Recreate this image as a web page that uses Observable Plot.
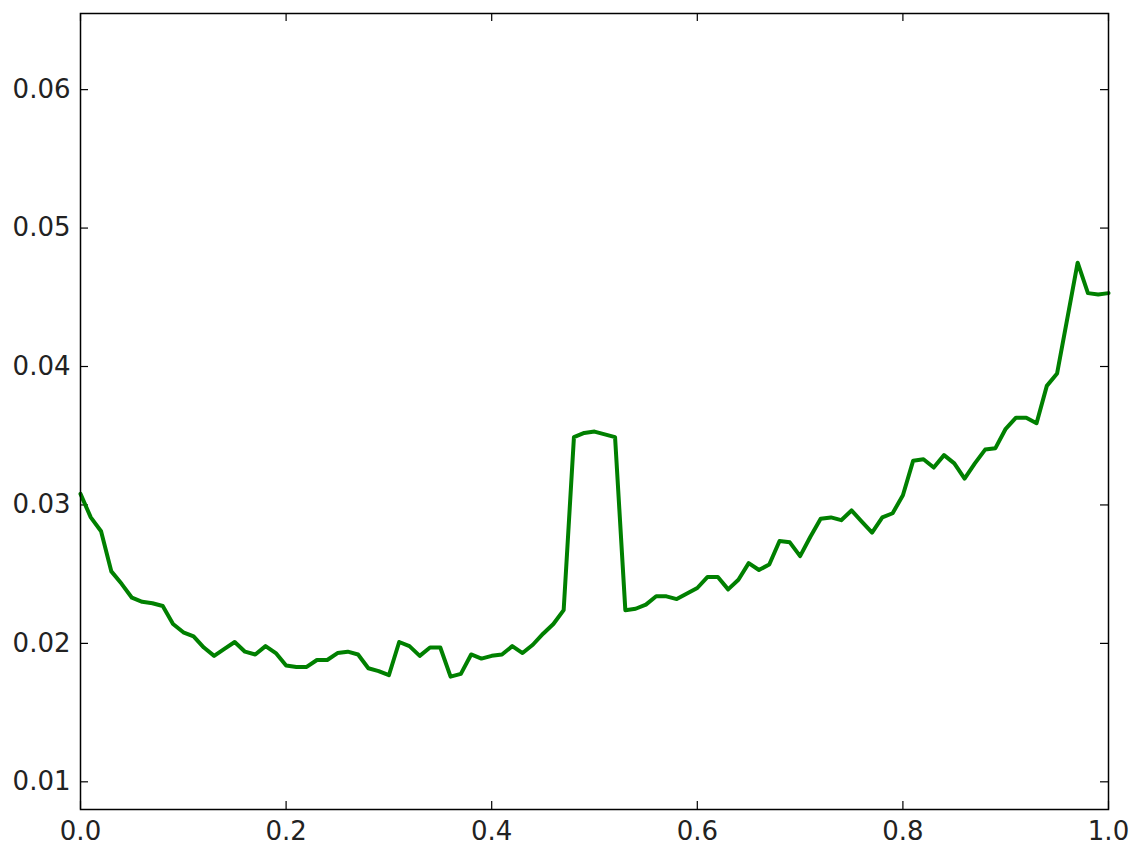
<!DOCTYPE html>
<html>
<head>
<meta charset="utf-8">
<script src="https://cdn.jsdelivr.net/npm/d3@7"></script>
<script src="https://cdn.jsdelivr.net/npm/@observablehq/plot@0.6"></script>
<style>
  html, body { margin: 0; padding: 0; background: #fff; }
  #chart svg { display: block; }
</style>
</head>
<body>
<div id="chart"></div>
<script>
const xValues = d3.range(101).map(i => i / 100);
const yValues = [
  0.0308, 0.0291, 0.0281, 0.0252, 0.0243, 0.0233, 0.0230, 0.0229, 0.0227, 0.0214,
  0.0208, 0.0205, 0.0197, 0.0191, 0.0196, 0.0201, 0.0194, 0.0192, 0.0198, 0.0193,
  0.0184, 0.0183, 0.0183, 0.0188, 0.0188, 0.0193, 0.0194, 0.0192, 0.0182, 0.0180,
  0.0177, 0.0201, 0.0198, 0.0191, 0.0197, 0.0197, 0.0176, 0.0178, 0.0192, 0.0189,
  0.0191, 0.0192, 0.0198, 0.0193, 0.0199, 0.0207, 0.0214, 0.0224, 0.0349, 0.0352,
  0.0353, 0.0351, 0.0349, 0.0224, 0.0225, 0.0228, 0.0234, 0.0234, 0.0232, 0.0236,
  0.0240, 0.0248, 0.0248, 0.0239, 0.0246, 0.0258, 0.0253, 0.0257, 0.0274, 0.0273,
  0.0263, 0.0277, 0.0290, 0.0291, 0.0289, 0.0296, 0.0288, 0.0280, 0.0291, 0.0294,
  0.0307, 0.0332, 0.0333, 0.0327, 0.0336, 0.0330, 0.0319, 0.0330, 0.0340, 0.0341,
  0.0355, 0.0363, 0.0363, 0.0359, 0.0386, 0.0395, 0.0435, 0.0475, 0.0453, 0.0452,
  0.0453
];
const xTicks = [0.0, 0.2, 0.4, 0.6, 0.8, 1.0];
const yTicks = [0.01, 0.02, 0.03, 0.04, 0.05, 0.06];

const data = xValues.map((x, i) => ({x, y: yValues[i]}));

const W = 1132, H = 848;
const mL = 80, mR = 24, mT = 13, mB = 39;
const plotW = W - mL - mR, plotH = H - mT - mB;
const T = 8;

const chart = Plot.plot({
  width: W,
  height: H,
  marginLeft: mL,
  marginRight: mR,
  marginTop: mT,
  marginBottom: mB,
  style: {fontFamily: "DejaVu Sans", fontSize: "26px", color: "#222", background: "#fff"},
  x: {domain: [0, 1]},
  y: {domain: [0.008, 0.0655]},
  marks: [
    Plot.axisY(yTicks, {tickSize: 0, tickPadding: 10, tickFormat: d3.format(".2f"), fontSize: 26, label: null}),
    Plot.axisX(xTicks, {tickSize: 0, tickPadding: 12, tickFormat: d3.format(".1f"), fontSize: 26, label: null}),
    Plot.tickY(yTicks, {y: d => d, insetRight: plotW - T, stroke: "#000", strokeWidth: 1.2}),
    Plot.tickY(yTicks, {y: d => d, insetLeft: plotW - T, stroke: "#000", strokeWidth: 1.2}),
    Plot.tickX(xTicks, {x: d => d, insetTop: plotH - T, stroke: "#000", strokeWidth: 1.2}),
    Plot.tickX(xTicks, {x: d => d, insetBottom: plotH - T, stroke: "#000", strokeWidth: 1.2}),
    Plot.line(data, {x: "x", y: "y", stroke: "#008000", strokeWidth: 4, strokeLinejoin: "round"}),
    Plot.frame({stroke: "#000", strokeWidth: 1.5})
  ]
});
document.getElementById("chart").appendChild(chart);
</script>
</body>
</html>
